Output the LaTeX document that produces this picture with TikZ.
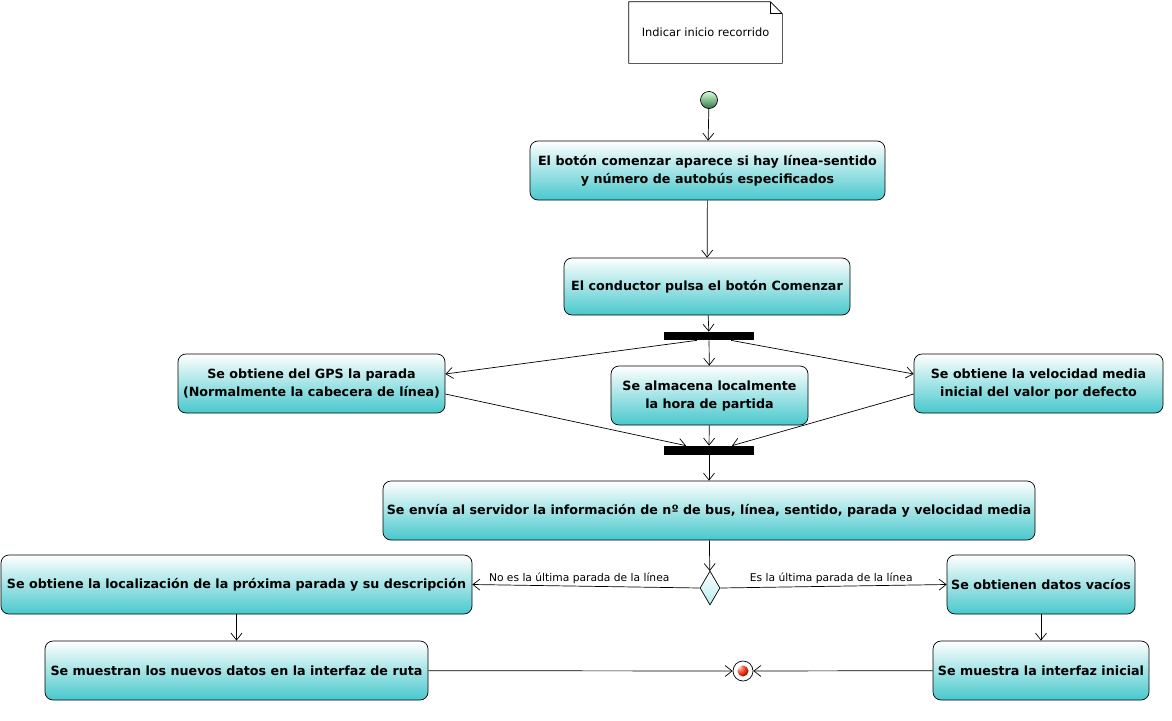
\documentclass[tikz,border=0pt]{standalone}
\usepackage{fontspec}
\setmainfont{DejaVu Sans}
\usepackage{tikz}
\usetikzlibrary{arrows.meta,shapes.geometric}
\definecolor{actcyan}{RGB}{72,200,204}
\definecolor{decicyan}{RGB}{180,236,238}
\definecolor{startgreen}{RGB}{50,120,70}
\tikzset{>/.tip={Straight Barb[length=7pt,width=11pt]},
  act/.style={draw, rounded corners=8pt, top color=white, bottom color=actcyan,
    align=center, font=\bfseries\fontsize{12.7}{18}\selectfont, inner sep=0pt},
  bar/.style={fill=black, minimum width=90pt, minimum height=8pt, inner sep=0pt},
  guard/.style={font=\fontsize{10.7}{12}\selectfont, inner sep=2pt}}

\begin{document}
\begin{tikzpicture}[x=1pt,y=-1pt,line width=0.7pt]
\useasboundingbox (0,0) rectangle (1172,720);
\node (note) at (705.5,32.5) [minimum width=153pt, minimum height=61pt, inner sep=0pt,
     font=\fontsize{11.4}{13}\selectfont] {Indicar inicio recorrido};
\draw (note.south west) -- (note.north west) -- ([xshift=-12pt]note.north east)
  -- ([yshift=-12pt]note.north east) -- (note.south east) -- cycle;
\draw ([xshift=-12pt]note.north east) -- ([xshift=-12pt,yshift=-12pt]note.north east)
  -- ([yshift=-12pt]note.north east);

\node (start) at (709,100) [circle, draw, minimum size=17pt, inner sep=0pt,
     top color=green!15!white, bottom color=startgreen] {};
\node (A1) at (707.5,170.5) [act, minimum width=355pt, minimum height=59pt]
     {El botón comenzar aparece si hay línea-sentido\\y número de autobús especificados};
\node (A2) at (707,286.5) [act, minimum width=286pt, minimum height=57pt]
     {El conductor pulsa el botón Comenzar};
\node (fork) at (709,336) [bar] {};
\node (gps) at (311.5,383.5) [act, minimum width=267pt, minimum height=59pt]
     {Se obtiene del GPS la parada\\(Normalmente la cabecera de línea)};
\node (hora) at (709.5,395.5) [act, minimum width=197pt, minimum height=59pt]
     {Se almacena localmente\\la hora de partida};
\node (vel) at (1038.5,383.5) [act, minimum width=249pt, minimum height=59pt]
     {Se obtiene la velocidad media\\inicial del valor por defecto};
\node (join) at (709,450.5) [bar, minimum height=9pt] {};
\node (send) at (709,510.5) [act, minimum width=652pt, minimum height=59pt]
     {Se envía al servidor la información de nº de bus, línea, sentido, parada y velocidad media};
\node (dec) at (710,588) [diamond, draw, minimum width=20pt, minimum height=34pt,
     inner sep=0pt, top color=white, bottom color=decicyan] {};
\node (loc) at (236.5,584.5) [act, minimum width=471pt, minimum height=59pt]
     {Se obtiene la localización de la próxima parada y su descripción};
\node (empty) at (1041,584.5) [act, minimum width=188pt, minimum height=59pt]
     {Se obtienen datos vacíos};
\node (route) at (236.5,670.5) [act, minimum width=383pt, minimum height=59pt]
     {Se muestran los nuevos datos en la interfaz de ruta};
\node (home) at (1041,670.5) [act, minimum width=216pt, minimum height=59pt]
     {Se muestra la interfaz inicial};
\node (end) at (743,671) [circle, draw, fill=white, minimum size=20pt, inner sep=0pt,
     path picture={\fill[ball color=red!70!orange] (path picture bounding box.center) circle (5.5pt);}] {};

\path[->] (start) edge (A1);
\path[->] (A1) edge (A2);
\path[->] (A2) edge (fork);
\path[->] ([xshift=-12pt]fork.south) edge (gps.east |- 0,374);
\path[->] (fork) edge (hora);
\path[->] ([xshift=22pt]fork.south) edge (vel.west |- 0,374);
\path[->] (gps.east |- 0,394) edge ([xshift=-23pt]join.north);
\path[->] (hora) edge (join);
\path[->] (vel.west |- 0,394) edge ([xshift=23pt]join.north);
\path[->] (join) edge (send);
\path[->] (send) edge (dec);
\path[->] (dec.west) edge node[guard, above, pos=0.53] {No es la última parada de la línea} (loc.east);
\path[->] (dec.east) edge node[guard, above, pos=0.49] {Es la última parada de la línea} (empty.west);
\path[->] (loc) edge (route);
\path[->] (empty) edge (home);
\path[->] (route) edge (end);
\path[->] (home) edge (end);
\end{tikzpicture}
\end{document}
